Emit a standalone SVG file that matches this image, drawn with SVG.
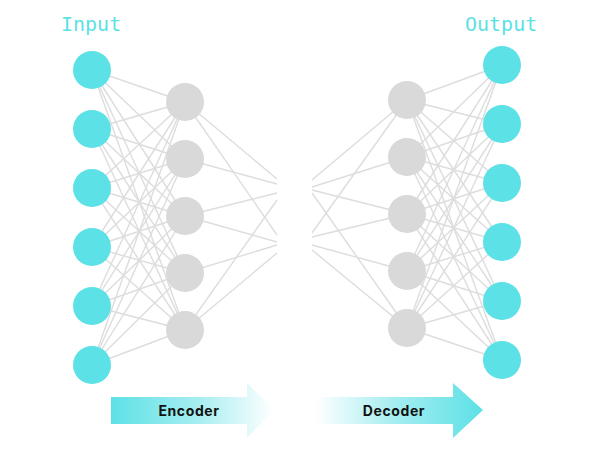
<svg xmlns="http://www.w3.org/2000/svg" width="600" height="450" viewBox="0 0 600 450">
<defs>
<style>
.c line{stroke:#dddddd;stroke-width:1.4;fill:none}
.io{fill:#5ce1e6}
.hd{fill:#d9d9d9}
.title{font-family:"DejaVu Sans Mono","Liberation Mono",monospace;font-size:20px;fill:#5ce1e6}
.lbl{font-family:"Inter","Liberation Sans",sans-serif;font-size:14px;font-weight:700;fill:#111;text-anchor:middle;letter-spacing:0.6px}
</style>
<linearGradient id="gEnc" x1="110" y1="0" x2="274" y2="0" gradientUnits="userSpaceOnUse">
<stop offset="0" stop-color="#5ce1e6"/>
<stop offset="0.55" stop-color="#a9eef1"/>
<stop offset="1" stop-color="#ffffff"/>
</linearGradient>
<linearGradient id="gDec" x1="315" y1="0" x2="483" y2="0" gradientUnits="userSpaceOnUse">
<stop offset="0" stop-color="#ffffff"/>
<stop offset="0.45" stop-color="#a9eef1"/>
<stop offset="1" stop-color="#5ce1e6"/>
</linearGradient>
</defs>
<rect width="600" height="450" fill="#ffffff"/>
<g id="connectors" class="c">
<line x1="92" y1="70" x2="185" y2="102"/><line x1="92" y1="70" x2="185" y2="159"/><line x1="92" y1="70" x2="185" y2="216"/><line x1="92" y1="70" x2="185" y2="273"/><line x1="92" y1="70" x2="185" y2="330"/>
<line x1="92" y1="129" x2="185" y2="102"/><line x1="92" y1="129" x2="185" y2="159"/><line x1="92" y1="129" x2="185" y2="216"/><line x1="92" y1="129" x2="185" y2="273"/><line x1="92" y1="129" x2="185" y2="330"/>
<line x1="92" y1="188" x2="185" y2="102"/><line x1="92" y1="188" x2="185" y2="159"/><line x1="92" y1="188" x2="185" y2="216"/><line x1="92" y1="188" x2="185" y2="273"/><line x1="92" y1="188" x2="185" y2="330"/>
<line x1="92" y1="247" x2="185" y2="102"/><line x1="92" y1="247" x2="185" y2="159"/><line x1="92" y1="247" x2="185" y2="216"/><line x1="92" y1="247" x2="185" y2="273"/><line x1="92" y1="247" x2="185" y2="330"/>
<line x1="92" y1="306" x2="185" y2="102"/><line x1="92" y1="306" x2="185" y2="159"/><line x1="92" y1="306" x2="185" y2="216"/><line x1="92" y1="306" x2="185" y2="273"/><line x1="92" y1="306" x2="185" y2="330"/>
<line x1="92" y1="365" x2="185" y2="102"/><line x1="92" y1="365" x2="185" y2="159"/><line x1="92" y1="365" x2="185" y2="216"/><line x1="92" y1="365" x2="185" y2="273"/><line x1="92" y1="365" x2="185" y2="330"/>
<line x1="185" y1="102" x2="277" y2="179"/><line x1="185" y1="102" x2="277" y2="235"/>
<line x1="185" y1="159" x2="277" y2="184"/>
<line x1="185" y1="216" x2="277" y2="193"/><line x1="185" y1="216" x2="277" y2="242"/>
<line x1="185" y1="273" x2="277" y2="245"/>
<line x1="185" y1="330" x2="277" y2="200"/><line x1="185" y1="330" x2="277" y2="253"/>
<line x1="312" y1="180" x2="407" y2="100"/><line x1="312" y1="233" x2="407" y2="100"/>
<line x1="312" y1="187" x2="407" y2="157"/>
<line x1="312" y1="190" x2="407" y2="214"/><line x1="312" y1="237" x2="407" y2="214"/>
<line x1="312" y1="245" x2="407" y2="271"/>
<line x1="312" y1="193" x2="407" y2="328"/><line x1="312" y1="250" x2="407" y2="328"/>
<line x1="407" y1="100" x2="502" y2="65"/><line x1="407" y1="100" x2="502" y2="124"/><line x1="407" y1="100" x2="502" y2="183"/><line x1="407" y1="100" x2="502" y2="242"/><line x1="407" y1="100" x2="502" y2="301"/><line x1="407" y1="100" x2="502" y2="360"/>
<line x1="407" y1="157" x2="502" y2="65"/><line x1="407" y1="157" x2="502" y2="124"/><line x1="407" y1="157" x2="502" y2="183"/><line x1="407" y1="157" x2="502" y2="242"/><line x1="407" y1="157" x2="502" y2="301"/><line x1="407" y1="157" x2="502" y2="360"/>
<line x1="407" y1="214" x2="502" y2="65"/><line x1="407" y1="214" x2="502" y2="124"/><line x1="407" y1="214" x2="502" y2="183"/><line x1="407" y1="214" x2="502" y2="242"/><line x1="407" y1="214" x2="502" y2="301"/><line x1="407" y1="214" x2="502" y2="360"/>
<line x1="407" y1="271" x2="502" y2="65"/><line x1="407" y1="271" x2="502" y2="124"/><line x1="407" y1="271" x2="502" y2="183"/><line x1="407" y1="271" x2="502" y2="242"/><line x1="407" y1="271" x2="502" y2="301"/><line x1="407" y1="271" x2="502" y2="360"/>
<line x1="407" y1="328" x2="502" y2="65"/><line x1="407" y1="328" x2="502" y2="124"/><line x1="407" y1="328" x2="502" y2="183"/><line x1="407" y1="328" x2="502" y2="242"/><line x1="407" y1="328" x2="502" y2="301"/><line x1="407" y1="328" x2="502" y2="360"/>
</g>
<g id="input-layer">
<circle id="in1" class="io" cx="92" cy="70" r="19"/>
<circle id="in2" class="io" cx="92" cy="129" r="19"/>
<circle id="in3" class="io" cx="92" cy="188" r="19"/>
<circle id="in4" class="io" cx="92" cy="247" r="19"/>
<circle id="in5" class="io" cx="92" cy="306" r="19"/>
<circle id="in6" class="io" cx="92" cy="365" r="19"/>
</g>
<g id="encoder-hidden">
<circle id="eh1" class="hd" cx="185" cy="102" r="19"/>
<circle id="eh2" class="hd" cx="185" cy="159" r="19"/>
<circle id="eh3" class="hd" cx="185" cy="216" r="19"/>
<circle id="eh4" class="hd" cx="185" cy="273" r="19"/>
<circle id="eh5" class="hd" cx="185" cy="330" r="19"/>
</g>
<g id="decoder-hidden">
<circle id="dh1" class="hd" cx="407" cy="100" r="19"/>
<circle id="dh2" class="hd" cx="407" cy="157" r="19"/>
<circle id="dh3" class="hd" cx="407" cy="214" r="19"/>
<circle id="dh4" class="hd" cx="407" cy="271" r="19"/>
<circle id="dh5" class="hd" cx="407" cy="328" r="19"/>
</g>
<g id="output-layer">
<circle id="out1" class="io" cx="502" cy="65" r="19"/>
<circle id="out2" class="io" cx="502" cy="124" r="19"/>
<circle id="out3" class="io" cx="502" cy="183" r="19"/>
<circle id="out4" class="io" cx="502" cy="242" r="19"/>
<circle id="out5" class="io" cx="502" cy="301" r="19"/>
<circle id="out6" class="io" cx="502" cy="360" r="19"/>
</g>
<g id="title-input"><text class="title" x="61" y="31">Input</text></g>
<g id="title-output"><text class="title" x="465" y="31">Output</text></g>
<g id="encoder-arrow">
<path d="M111 397 H247 V383 L274 410 L247 438 V424 H111 Z" fill="url(#gEnc)"/>
<text class="lbl" x="189" y="416">Encoder</text>
</g>
<g id="decoder-arrow">
<path d="M315 397 H453 V383 L483 410 L453 438 V424 H315 Z" fill="url(#gDec)"/>
<text class="lbl" x="394" y="416">Decoder</text>
</g>
</svg>
